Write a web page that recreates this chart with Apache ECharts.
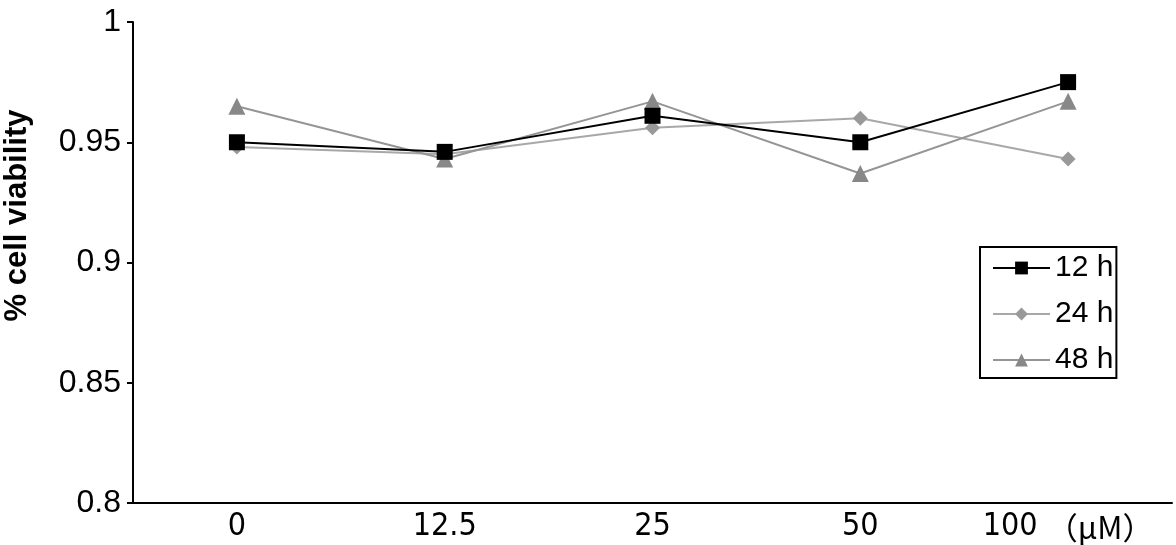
<!DOCTYPE html>
<html>
<head>
<meta charset="utf-8">
<script src="https://cdn.jsdelivr.net/npm/echarts@6/dist/echarts.min.js"></script>
<style>
  html, body { margin: 0; padding: 0; background: #fff; }
  #chart { width: 1176px; height: 545px; }
</style>
</head>
<body>
<div id="chart"></div>
<script>
// Data
const doses = ["0", "12.5", "25", "50", "100"];
const h12 = [0.950, 0.946, 0.961, 0.950, 0.975];
const h24 = [0.948, 0.945, 0.956, 0.960, 0.943];
const h48 = [0.965, 0.943, 0.967, 0.937, 0.967];
const yTicks = [0.8, 0.85, 0.9, 0.95, 1];

const sans = "'Liberation Sans', Arial, sans-serif";
const narrow = "'Liberation Sans Narrow', 'DejaVu Sans Condensed', sans-serif";

const chart = echarts.init(document.getElementById("chart"));
const option = {
  animation: false,
  backgroundColor: "#fff",
  grid: {
    left: 133,
    right: 4,
    top: 22,
    bottom: 42,
    containLabel: false,
    outerBoundsMode: "none",
  },
  legend: {
    orient: "vertical",
    left: 980,
    top: 247,
    padding: [6, 3, 3, 12],
    itemWidth: 57,
    itemHeight: 16,
    itemGap: 16,
    borderColor: "#000",
    borderWidth: 2,
    textStyle: {
      fontFamily: sans,
      fontSize: 30,
      color: "#000",
    },
    data: ["12 h", "24 h", "48 h"],
  },
  xAxis: {
    type: "category",
    boundaryGap: true,
    data: doses,
    axisLine: { lineStyle: { color: "#000", width: 2 } },
    axisTick: { show: false },
    axisLabel: {
      interval: 0,
      margin: 8,
      color: "#000",
      fontSize: 32,
      fontFamily: narrow,
      formatter: function (v) {
        if (v === "100") return "100 {u|（μM）}";
        return v;
      },
      rich: {
        u: {
          fontSize: 31,
          color: "#000",
          fontFamily: "'Noto Sans CJK SC', sans-serif",
        },
      },
    },
  },
  yAxis: {
    type: "value",
    min: 0.8,
    max: 1,
    interval: 0.05,
    name: "% cell viability",
    nameLocation: "middle",
    nameRotate: 90,
    nameGap: 100,
    nameTextStyle: {
      fontFamily: sans,
      fontSize: 31,
      fontWeight: "bold",
      color: "#000",
      padding: [0, 0, 0, 94],
    },
    axisLine: { show: true, lineStyle: { color: "#000", width: 2 } },
    axisTick: { show: true, length: 6, lineStyle: { color: "#000", width: 2 } },
    splitLine: { show: false },
    axisLabel: {
      margin: 12,
      color: "#000",
      fontSize: 32,
      fontFamily: sans,
      formatter: function (v) {
        const t = yTicks.find((x) => Math.abs(x - v) < 1e-6);
        return t === undefined ? "" : String(t);
      },
    },
  },
  series: [
    {
      name: "12 h",
      type: "line",
      data: h12,
      symbol: "rect",
      symbolSize: 16,
      lineStyle: { color: "#000", width: 2 },
      itemStyle: { color: "#000" },
      z: 4,
    },
    {
      name: "24 h",
      type: "line",
      data: h24,
      symbol: "diamond",
      symbolSize: 15,
      lineStyle: { color: "#a8a8a8", width: 2 },
      itemStyle: { color: "#999" },
      z: 3,
    },
    {
      name: "48 h",
      type: "line",
      data: h48,
      symbol: "triangle",
      symbolSize: 17,
      lineStyle: { color: "#959595", width: 2 },
      itemStyle: { color: "#888" },
      z: 3,
    },
  ],
};
chart.setOption(option);

window.addEventListener("resize", function () {
  chart.resize();
});
</script>
</body>
</html>
